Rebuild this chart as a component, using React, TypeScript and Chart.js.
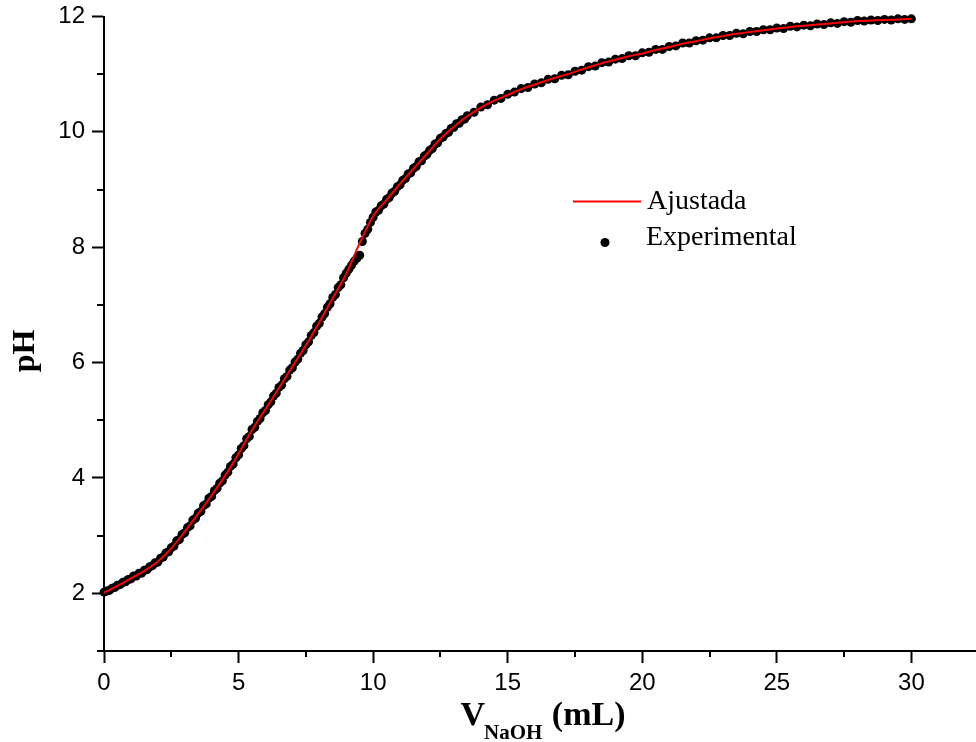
import React, { useEffect, useRef } from "react";
import { Chart, registerables } from "chart.js";

Chart.register(...registerables);

// Fitted curve (Ajustada)
const volumeFit = [
  0, 0.5, 1, 1.5, 2, 2.5, 3, 3.5, 4, 4.5,
  5, 5.5, 6, 6.5, 7, 7.5, 8, 8.5, 9, 9.5,
  10, 10.5, 11, 11.5, 12, 12.5, 13, 13.5, 14, 14.5,
  15, 15.5, 16, 16.5, 17, 17.5, 18, 18.5, 19, 19.5,
  20, 20.5, 21, 21.5, 22, 22.5, 23, 23.5, 24, 24.5,
  25, 25.5, 26, 26.5, 27, 27.5, 28, 28.5, 29, 29.5,
  30,
];
const phFit = [
  2.01, 2.13, 2.26, 2.39, 2.55, 2.78, 3.07, 3.38, 3.7, 4.04,
  4.42, 4.83, 5.19, 5.56, 5.93, 6.3, 6.7, 7.12, 7.54, 8.07,
  8.54, 8.82, 9.1, 9.36, 9.62, 9.88, 10.09, 10.27, 10.42, 10.54,
  10.64, 10.74, 10.82, 10.9, 10.97, 11.04, 11.12, 11.19, 11.25, 11.31,
  11.36, 11.42, 11.47, 11.53, 11.57, 11.62, 11.66, 11.7, 11.73, 11.76,
  11.79, 11.82, 11.84, 11.86, 11.88, 11.9, 11.92, 11.93, 11.94, 11.95,
  11.96,
];

// Experimental points
const volumeExp = [
  0, 0.1, 0.2, 0.3, 0.4, 0.5, 0.6, 0.7, 0.8, 0.9,
  1, 1.1, 1.2, 1.3, 1.4, 1.5, 1.6, 1.7, 1.8, 1.9,
  2, 2.1, 2.2, 2.3, 2.4, 2.5, 2.6, 2.7, 2.8, 2.9,
  3, 3.1, 3.2, 3.3, 3.4, 3.5, 3.6, 3.7, 3.8, 3.9,
  4, 4.1, 4.2, 4.3, 4.4, 4.5, 4.6, 4.7, 4.8, 4.9,
  5, 5.1, 5.2, 5.3, 5.4, 5.5, 5.6, 5.7, 5.8, 5.9,
  6, 6.1, 6.2, 6.3, 6.4, 6.5, 6.6, 6.7, 6.8, 6.9,
  7, 7.1, 7.2, 7.3, 7.4, 7.5, 7.6, 7.7, 7.8, 7.9,
  8, 8.1, 8.2, 8.3, 8.4, 8.5, 8.6, 8.7, 8.8, 8.9,
  9, 9.1, 9.2, 9.3, 9.4, 9.5, 9.6, 9.7, 9.8, 9.9,
  10, 10.1, 10.2, 10.3, 10.4, 10.5, 10.6, 10.7, 10.8, 10.9,
  11, 11.1, 11.2, 11.3, 11.4, 11.5, 11.6, 11.7, 11.8, 11.9,
  12, 12.1, 12.2, 12.3, 12.4, 12.5, 12.6, 12.7, 12.8, 12.9,
  13, 13.1, 13.2, 13.3, 13.4, 13.5,
  13.75, 14, 14.25, 14.5, 14.75, 15, 15.25, 15.5, 15.75, 16,
  16.25, 16.5, 16.75, 17, 17.25, 17.5, 17.75, 18, 18.25, 18.5,
  18.75, 19, 19.25, 19.5, 19.75, 20, 20.25, 20.5, 20.75, 21,
  21.25, 21.5, 21.75, 22, 22.25, 22.5, 22.75, 23, 23.25, 23.5,
  23.75, 24, 24.25, 24.5, 24.75, 25, 25.25, 25.5, 25.75, 26,
  26.25, 26.5, 26.75, 27, 27.25, 27.5, 27.75, 28, 28.25, 28.5,
  28.75, 29, 29.25, 29.5, 29.75, 30,
];
const phExp = [
  2.02, 2.04, 2.05, 2.09, 2.1, 2.14, 2.15, 2.19, 2.2, 2.24,
  2.25, 2.3, 2.3, 2.35, 2.35, 2.4, 2.41, 2.46, 2.48, 2.53,
  2.54, 2.61, 2.63, 2.7, 2.72, 2.79, 2.82, 2.91, 2.93, 3.02,
  3.05, 3.14, 3.17, 3.27, 3.3, 3.39, 3.42, 3.52, 3.55, 3.65,
  3.68, 3.78, 3.82, 3.91, 3.95, 4.05, 4.1, 4.2, 4.24, 4.35,
  4.4, 4.51, 4.56, 4.68, 4.72, 4.84, 4.88, 4.98, 5.03, 5.13,
  5.17, 5.27, 5.32, 5.42, 5.47, 5.57, 5.61, 5.72, 5.76, 5.87,
  5.91, 6.01, 6.06, 6.16, 6.21, 6.31, 6.36, 6.47, 6.52, 6.63,
  6.68, 6.79, 6.85, 6.96, 7.02, 7.13, 7.18, 7.3, 7.35, 7.47,
  7.55, 7.62, 7.69, 7.76, 7.81, 7.86, 8.1, 8.24, 8.31, 8.43,
  8.52, 8.61, 8.64, 8.72, 8.75, 8.83, 8.86, 8.94, 8.97, 9.05,
  9.08, 9.16, 9.19, 9.27, 9.29, 9.37, 9.4, 9.48, 9.5, 9.58,
  9.61, 9.68, 9.71, 9.79, 9.81, 9.89, 9.91, 9.97, 9.99, 10.06,
  10.08, 10.14, 10.15, 10.21, 10.22, 10.28,
  10.34, 10.43, 10.47, 10.55, 10.58, 10.65, 10.69, 10.75, 10.77, 10.83,
  10.85, 10.91, 10.92, 10.98, 10.99, 11.05, 11.07, 11.13, 11.14, 11.2,
  11.21, 11.26, 11.27, 11.32, 11.32, 11.37, 11.38, 11.43, 11.43, 11.48,
  11.49, 11.54, 11.54, 11.58, 11.59, 11.63, 11.63, 11.67, 11.67, 11.71,
  11.7, 11.74, 11.74, 11.77, 11.77, 11.8, 11.79, 11.83, 11.82, 11.85,
  11.84, 11.87, 11.86, 11.89, 11.88, 11.91, 11.9, 11.93, 11.92, 11.94,
  11.93, 11.95, 11.94, 11.96, 11.95, 11.96,
];

const seriesNames = ["Ajustada", "Experimental"];
const xMajorStep = 5;
const yMajorStep = 2;

const SERIF = '"Liberation Serif", "Times New Roman", serif';
const SANS = '"Liberation Sans", Arial, sans-serif';

const decorPlugin = {
  id: "decor",
  afterDraw(chart: any) {
    const ctx = chart.ctx;
    const xs = chart.scales.x;
    const ys = chart.scales.y;
    const area = chart.chartArea;
    ctx.save();
    // minor ticks
    ctx.strokeStyle = "#000";
    ctx.lineWidth = 2;
    xs.ticks.forEach((t: any) => {
      if (Math.abs(t.value % xMajorStep) > 1e-6) {
        const px = Math.round(xs.getPixelForValue(t.value));
        ctx.beginPath();
        ctx.moveTo(px, area.bottom);
        ctx.lineTo(px, area.bottom + 6);
        ctx.stroke();
      }
    });
    ys.ticks.forEach((t: any) => {
      if (Math.abs(t.value % yMajorStep) > 1e-6) {
        const py = Math.round(ys.getPixelForValue(t.value));
        ctx.beginPath();
        ctx.moveTo(area.left - 7, py);
        ctx.lineTo(area.left, py);
        ctx.stroke();
      }
    });

    // x axis title with subscript
    ctx.fillStyle = "#000";
    ctx.textBaseline = "alphabetic";
    ctx.textAlign = "left";
    const big = `bold 34px ${SERIF}`;
    const small = `bold 21px ${SERIF}`;
    ctx.font = big;
    const wV = ctx.measureText("V").width;
    const wRest = ctx.measureText(" (mL)").width;
    ctx.font = small;
    const wSub = ctx.measureText("NaOH").width;
    const total = wV + wSub + wRest;
    const x0 = 543 - total / 2;
    ctx.font = big;
    ctx.fillText("V", x0, 725);
    ctx.font = small;
    ctx.fillText("NaOH", x0 + wV - 1, 739);
    ctx.font = big;
    ctx.fillText(" (mL)", x0 + wV + wSub, 725);

    // y axis title
    ctx.save();
    ctx.translate(34, 351);
    ctx.rotate(-Math.PI / 2);
    ctx.textAlign = "center";
    ctx.font = `bold 32px ${SERIF}`;
    ctx.fillText("pH", 0, 0);
    ctx.restore();

    // legend
    ctx.strokeStyle = "#ff0000";
    ctx.lineWidth = 2;
    ctx.beginPath();
    ctx.moveTo(573, 201.5);
    ctx.lineTo(641, 201.5);
    ctx.stroke();
    ctx.font = `28px ${SERIF}`;
    ctx.fillStyle = "#000";
    ctx.fillText(seriesNames[0], 647, 209);
    ctx.beginPath();
    ctx.arc(605, 242.5, 4.5, 0, Math.PI * 2);
    ctx.fill();
    ctx.fillText(seriesNames[1], 646, 245);
    ctx.restore();
  },
};

export default function App() {
  const ref = useRef<HTMLCanvasElement | null>(null);
  useEffect(() => {
    if (!ref.current) return;
    const fitData = volumeFit.map((v, i) => ({ x: v, y: phFit[i] }));
    const expData = volumeExp.map((v, i) => ({ x: v, y: phExp[i] }));
    const chart = new Chart(ref.current, {
      type: "scatter",
      data: {
        datasets: [
          {
            label: seriesNames[0],
            data: fitData,
            showLine: true,
            borderColor: "#ff0000",
            borderWidth: 2,
            pointRadius: 0,
            cubicInterpolationMode: "monotone",
            order: 0,
            clip: false,
          } as any,
          {
            label: seriesNames[1],
            data: expData,
            showLine: false,
            backgroundColor: "#000",
            borderWidth: 0,
            pointRadius: 4.5,
            order: 1,
            clip: false,
          } as any,
        ],
      },
      options: {
        animation: false,
        responsive: false,
        devicePixelRatio: 1,
        layout: { autoPadding: false, padding: { top: 16.5, right: 0, left: 0, bottom: 0 } },
        plugins: {
          legend: { display: false },
          tooltip: { enabled: false },
          title: { display: false },
        },
        scales: {
          x: {
            type: "linear",
            position: "bottom",
            min: 0,
            max: 32.4,
            afterFit: (s: any) => {
              s.height = 91;
              s.paddingLeft = 0;
              s.paddingRight = 0;
              s.paddingTop = 0;
              s.paddingBottom = 0;
            },
            grid: {
              drawOnChartArea: false,
              drawTicks: true,
              tickLength: 12,
              tickWidth: 2,
              tickColor: (c: any) =>
                c.tick && Math.abs(c.tick.value % xMajorStep) < 1e-6 ? "#000" : "rgba(0,0,0,0)",
            },
            border: { display: true, color: "#000", width: 2 },
            ticks: {
              stepSize: 2.5,
              includeBounds: false,
              autoSkip: false,
              maxRotation: 0,
              padding: 6,
              color: "#000",
              font: { family: SANS, size: 24 },
              callback: (v: any) => (Math.abs(v % xMajorStep) < 1e-6 ? String(v) : ""),
            },
          },
          y: {
            type: "linear",
            min: 1,
            max: 12,
            afterFit: (s: any) => {
              s.width = 104;
              s.paddingTop = 0;
              s.paddingBottom = 0;
              s.paddingLeft = 0;
              s.paddingRight = 0;
            },
            grid: {
              drawOnChartArea: false,
              drawTicks: true,
              tickLength: 12,
              tickWidth: 2,
              tickColor: (c: any) =>
                c.tick && Math.abs(c.tick.value % yMajorStep) < 1e-6 ? "#000" : "rgba(0,0,0,0)",
            },
            border: { display: true, color: "#000", width: 2 },
            ticks: {
              stepSize: 1,
              autoSkip: false,
              padding: 7,
              color: "#000",
              font: { family: SANS, size: 24 },
              callback: (v: any) => (Math.abs(v % yMajorStep) < 1e-6 ? String(v) : ""),
            },
          },
        },
      },
      plugins: [decorPlugin],
    });
    return () => chart.destroy();
  }, []);
  return (
    <div style={{ position: "absolute", left: 0, top: 0, width: 976, height: 742, background: "#fff" }}>
      <canvas ref={ref} width={976} height={742} style={{ display: "block" }} />
    </div>
  );
}
